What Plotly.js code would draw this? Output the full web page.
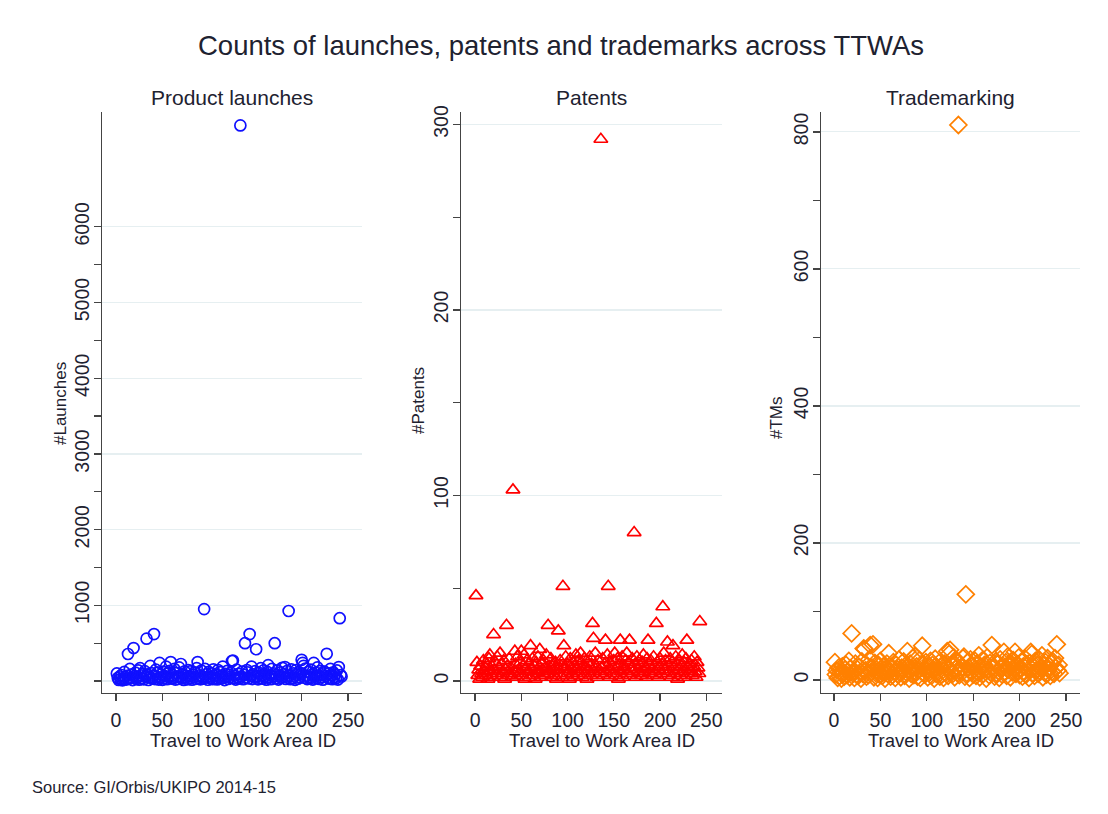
<!DOCTYPE html>
<html>
<head>
<meta charset="utf-8">
<script src="https://cdn.plot.ly/plotly-3.0.1.min.js"></script>
<style>html,body{margin:0;padding:0;background:#fff;}#chart{width:1108px;height:814px;}</style>
</head>
<body>
<div id="chart"></div>
<script>
// Travel to Work Area IDs
const ttwaId = [
1,2,3,4,5,6,7,8,9,10,11,12,13,14,15,16,17,18,19,20,
21,22,23,24,25,26,27,28,29,30,31,32,33,34,35,36,37,38,39,40,
41,42,43,44,45,46,47,48,49,50,51,52,53,54,55,56,57,58,59,60,
61,62,63,64,65,66,67,68,69,70,71,72,73,74,75,76,77,78,79,80,
81,82,83,84,85,86,87,88,89,90,91,92,93,94,95,96,97,98,99,100,
101,102,103,104,105,106,107,108,109,110,111,112,113,114,115,116,117,118,119,120,
121,122,123,124,125,126,127,128,129,130,131,132,133,134,135,136,137,138,139,140,
141,142,143,144,145,146,147,148,149,150,151,152,153,154,155,156,157,158,159,160,
161,162,163,164,165,166,167,168,169,170,171,172,173,174,175,176,177,178,179,180,
181,182,183,184,185,186,187,188,189,190,191,192,193,194,195,196,197,198,199,200,
201,202,203,204,205,206,207,208,209,210,211,212,213,214,215,216,217,218,219,220,
221,222,223,224,225,226,227,228,229,230,231,232,233,234,235,236,237,238,239,240,
241,242,243];

// Product launches per TTWA
const launches = [
100,40,15,60,25,80,10,35,120,55,
20,70,357,30,160,45,90,12,436,65,
110,28,50,140,18,170,75,38,95,22,
130,60,560,85,14,48,200,105,32,70,
620,26,150,58,115,20,240,42,88,16,
125,36,66,190,24,98,52,135,250,30,
78,44,160,19,108,62,27,180,54,225,
34,92,15,128,46,70,23,145,60,38,
130,18,84,56,112,29,170,250,41,76,
22,138,64,33,950,160,48,90,17,120,
58,36,100,25,155,68,40,82,21,145,
52,118,30,74,190,44,12,96,62,135,
28,86,50,110,265,270,38,72,20,150,
45,95,33,7340,60,125,24,80,500,42,
145,115,35,620,70,190,26,88,50,130,
420,64,22,108,40,170,78,30,140,56,
92,18,120,210,48,75,25,160,62,100,
500,34,85,140,20,66,115,42,175,58,
90,185,28,130,46,925,72,24,155,38,
102,60,16,145,80,30,118,50,95,280,
240,200,44,165,70,26,120,56,34,150,
84,20,240,62,110,40,180,74,28,135,
52,90,18,125,120,66,360,42,100,30,
160,76,24,115,54,88,36,140,20,185,
830,80,60];

// Patents per TTWA
const patents = [
46,10,3,6,1,8,4,2,11,5,
7,3,9,1,12,14,5,8,2,25,
6,10,3,13,4,7,15,2,9,5,
11,1,6,30,8,3,12,4,7,2,
103,5,16,9,2,13,6,4,10,16,
3,8,14,1,7,11,5,9,2,19,
6,12,3,8,1,10,4,13,5,17,
2,9,6,11,3,7,14,4,30,8,
5,12,2,9,6,3,10,1,7,27,
4,11,8,2,51,19,6,13,3,9,
5,1,12,7,4,10,2,8,14,6,
3,11,9,15,5,2,8,12,4,7,
1,10,6,13,3,9,31,23,5,15,
8,2,11,6,4,292,7,12,3,9,
22,5,14,51,2,10,6,8,4,11,
15,3,7,12,1,9,22,5,13,2,
8,6,11,15,4,10,22,3,7,12,
5,80,9,2,13,6,4,11,8,3,
10,14,5,7,2,12,22,9,4,11,
6,3,13,8,5,31,10,2,7,12,
4,9,40,15,6,11,3,21,8,5,
12,2,10,19,7,4,13,9,1,6,
11,3,8,14,5,10,2,12,22,7,
4,9,6,11,3,8,13,5,2,10,
7,4,32];

// Trademarks per TTWA
const trademarks = [
26,8,14,3,18,6,11,2,20,9,
5,15,22,7,12,28,4,17,68,10,
13,3,24,8,16,6,19,11,2,27,
9,46,45,14,5,21,7,30,51,12,
18,52,4,25,10,15,3,22,8,28,
13,6,20,11,2,17,24,9,39,14,
5,19,7,26,12,3,22,16,8,30,
10,4,18,13,27,6,21,11,42,15,
2,24,9,17,32,7,35,12,20,5,
14,29,3,23,50,10,16,8,26,13,
4,19,11,28,6,22,15,2,31,9,
18,12,25,5,20,8,14,3,24,10,
17,42,6,38,44,13,21,9,33,4,
16,27,11,810,7,23,14,19,32,34,
5,125,10,26,18,3,30,12,21,8,
15,28,6,24,11,36,4,19,13,29,
9,22,16,2,33,14,7,25,11,51,
18,20,5,27,10,23,13,3,30,16,
8,21,41,12,26,6,34,15,19,4,
24,11,29,17,41,9,22,14,33,7,
18,27,5,20,12,31,8,23,15,3,
25,41,38,10,19,6,28,14,22,9,
30,13,17,36,4,21,11,26,8,32,
15,20,6,24,12,27,9,32,18,52,
14,22,10];

// Tick labels
const xTicks = [0,50,100,150,200,250];
const launchTicks = [0,1000,2000,3000,4000,5000,6000];
const launchTickText = ['','1000','2000','3000','4000','5000','6000'];
const launchMinor = [500,1500,2500,3500,4500,5500];
const patentTicks = [0,100,200,300];
const patentMinor = [50,150,250];
const tmTicks = [0,200,400,600,800];
const tmMinor = [100,300,500,700];

const panelTitles = ['Product launches','Patents','Trademarking'];
const yTitles = ['#Launches','#Patents','#TMs'];
const xTitle = 'Travel to Work Area ID';
const mainTitle = 'Counts of launches, patents and trademarks across TTWAs';
const sourceNote = 'Source: GI/Orbis/UKIPO 2014-15';

const W = 1108, H = 814;
const FONT = '"Liberation Sans", Arial, sans-serif';
const TXT = '#1e2230';
const px = v => v / W;
const py = v => 1 - v / H;

const yDom = [py(693), py(112)];
const xDoms = [[px(102), px(362)], [px(461), px(722)], [px(821), px(1080)]];

function xAxis(dom, range) {
  return {
    domain: dom, range: range, tickmode: 'array', tickvals: xTicks,
    ticks: 'outside', ticklen: 7, tickwidth: 1.3, tickcolor: '#444',
    ticklabelstandoff: 2,
    showline: true, linecolor: '#444', linewidth: 1.3,
    showgrid: false, zeroline: false,
    tickfont: {family: FONT, size: 19.5, color: TXT}
  };
}
function yAxis(range, tv, tt, minor, anchor) {
  return {
    domain: yDom, range: range, anchor: anchor,
    tickmode: 'array', tickvals: tv, ticktext: tt,
    ticks: 'outside', ticklen: 7, tickwidth: 1.3, tickcolor: '#444',
    tickangle: -90, ticklabelstandoff: -3,
    minor: {tickmode: 'array', tickvals: minor, ticks: 'outside', ticklen: 7, tickwidth: 1.3, tickcolor: '#444', showgrid: false},
    showline: true, linecolor: '#444', linewidth: 1.3,
    showgrid: true, gridcolor: '#e6eff1', gridwidth: 1.2,
    zeroline: false,
    tickfont: {family: FONT, size: 19.5, color: TXT}
  };
}

const traces = [
  {x: ttwaId, y: launches, type: 'scatter', mode: 'markers', xaxis: 'x', yaxis: 'y',
   marker: {symbol: 'circle-open', size: 11, color: '#1010ff', line: {width: 1.7, color: '#1010ff'}}, hoverinfo: 'x+y'},
  {x: ttwaId, y: patents, type: 'scatter', mode: 'markers', xaxis: 'x2', yaxis: 'y2',
   marker: {symbol: 'triangle-up-open', size: 12, color: '#ff0000', line: {width: 1.7, color: '#ff0000'}}, hoverinfo: 'x+y'},
  {x: ttwaId, y: trademarks, type: 'scatter', mode: 'markers', xaxis: 'x3', yaxis: 'y3',
   marker: {symbol: 'diamond-open', size: 13, color: '#ff8000', line: {width: 1.7, color: '#ff8000'}}, hoverinfo: 'x+y'}
];

const titleX = [232, 591, 950];
const yTitleX = [60, 418, 776];
const yTitleY = [404, 401, 418];
const annotations = [];
for (let i = 0; i < 3; i++) {
  annotations.push({text: panelTitles[i], xref: 'paper', yref: 'paper', x: px(titleX[i]), y: py(98),
    xanchor: 'center', yanchor: 'middle', showarrow: false, font: {family: FONT, size: 21, color: TXT}});
  annotations.push({text: yTitles[i], xref: 'paper', yref: 'paper', x: px(yTitleX[i]), y: py(yTitleY[i]),
    xanchor: 'center', yanchor: 'middle', textangle: -90, showarrow: false, font: {family: FONT, size: 17, color: TXT}});
  annotations.push({text: xTitle, xref: 'paper', yref: 'paper', x: px(titleX[i] + 11), y: py(740),
    xanchor: 'center', yanchor: 'middle', showarrow: false, font: {family: FONT, size: 18.5, color: TXT}});
}
annotations.push({text: sourceNote, xref: 'paper', yref: 'paper', x: px(30), y: py(787),
  xanchor: 'left', yanchor: 'middle', showarrow: false, font: {family: FONT, size: 16.5, color: TXT}});

const layout = {
  width: W, height: H,
  margin: {l: 0, r: 0, t: 0, b: 0},
  paper_bgcolor: '#ffffff', plot_bgcolor: '#ffffff',
  showlegend: false,
  title: {text: mainTitle, x: px(561), xanchor: 'center', y: py(45), yanchor: 'middle',
          font: {family: FONT, size: 27.5, color: TXT}},
  xaxis: Object.assign(xAxis(xDoms[0], [-15, 265]), {anchor: 'y'}),
  xaxis2: Object.assign(xAxis(xDoms[1], [-15.2, 267]), {anchor: 'y2'}),
  xaxis3: Object.assign(xAxis(xDoms[2], [-14, 265]), {anchor: 'y3'}),
  yaxis: yAxis([-158, 7517], launchTicks, launchTickText, launchMinor, 'x'),
  yaxis2: yAxis([-6.5, 306.7], patentTicks, patentTicks.map(String), patentMinor, 'x2'),
  yaxis3: yAxis([-19, 829], tmTicks, tmTicks.map(String), tmMinor, 'x3'),
  annotations: annotations
};

Plotly.newPlot('chart', traces, layout, {displayModeBar: false, staticPlot: true});
</script>
</body>
</html>
